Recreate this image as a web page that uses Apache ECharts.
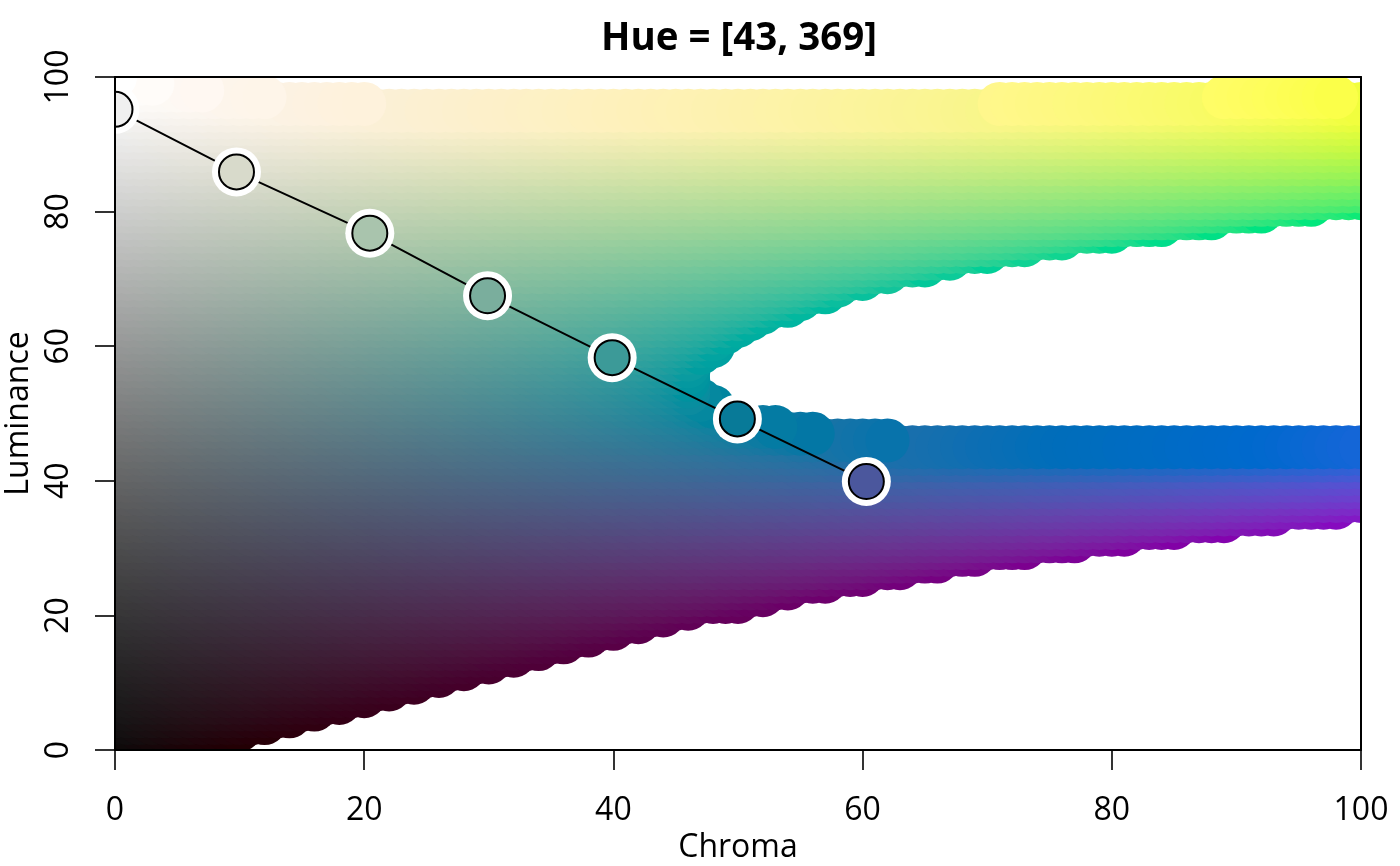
<!DOCTYPE html>
<html>
<head>
<meta charset="utf-8">
<title>Hue = [43, 369]</title>
<script src="https://cdn.jsdelivr.net/npm/echarts@6/dist/echarts.min.js"></script>
<style>
	html, body { margin: 0; padding: 0; background: #fff; }
	#chart { width: 1400px; height: 866px; }
</style>
</head>
<body>
<div id="chart"></div>
<script>
// tick labels
const tickValues = [0, 20, 40, 60, 80, 100];

// background field: one row of circles per luminance, index = luminance 0..100
// hue of each row at chroma 100
const rowHue = [
	403, 400, 397, 393, 390, 387, 384, 380, 377, 374,
	371, 367, 364, 361, 358, 354, 351, 348, 345, 341,
	338, 335, 332, 328, 325, 322, 319, 315, 312, 309,
	306, 302, 299, 296, 293, 289, 286, 283, 280, 276,
	273, 270, 267, 263, 260, 257, 254, 250, 247, 244,
	241, 237, 234, 231, 228, 224, 221, 218, 215, 211,
	208, 205, 202, 198, 195, 192, 189, 185, 182, 179,
	176, 172, 169, 166, 163, 159, 156, 153, 150, 146,
	143, 140, 137, 133, 130, 127, 124, 120, 117, 114,
	111, 107, 104, 101, 98, 94, 91, 88, 85, 81,
	78,
];
// largest chroma of each row
const rowMaxChroma = [
	4, 6, 8, 10, 12, 14, 16, 18, 20, 22,
	24, 26, 28, 30, 32, 34, 36, 38, 40, 42,
	44, 46, 50, 52, 54, 57, 60, 63, 66, 69,
	73, 77, 81, 85, 89, 93, 98, 100, 100, 100,
	100, 100, 100, 100, 100, 100, 62, 56, 53, 50,
	48, 48, 47, 46, 46, 46, 46, 46, 46, 47,
	48, 48, 49, 50, 51, 52, 54, 55, 57, 58,
	60, 62, 65, 67, 70, 73, 76, 80, 84, 88,
	92, 96, 100, 100, 100, 100, 100, 100, 100, 100,
	100, 100, 100, 100, 100, 100, 100, 98, 7, 3,
	0,
];
// the two top rows leave a hole in the middle
const gapRows = [96, 97];
const gapFrom = [21, 13];
const gapTo = [71, 89];

// palette points on top
const paletteChroma = [0, 9.75, 20.45, 29.9, 39.9, 49.95, 60.3];
const paletteLuminance = [95.2, 85.9, 76.8, 67.5, 58.3, 49.2, 39.9];
const paletteColors = ['#f0f0f0', '#d8dacb', '#a9c4ad', '#7aae9d', '#3c9a98', '#087a98', '#4b579d'];

const chromaStep = 1;
// hue drifts with chroma, degrees per chroma unit below 100
const hueChromaSlope = 0.32;

// polar LUV to sRGB hex, same colour model as the source plot
function hcl2hex(h, c, l) {
	const Xn = 95.047, Yn = 100, Zn = 108.883;
	const un = 4 * Xn / (Xn + 15 * Yn + 3 * Zn);
	const vn = 9 * Yn / (Xn + 15 * Yn + 3 * Zn);
	if (l <= 0) return '#000000';
	const u = c * Math.cos(h * Math.PI / 180);
	const v = c * Math.sin(h * Math.PI / 180);
	const Y = Yn * (l > 8 ? Math.pow((l + 16) / 116, 3) : l / 903.3);
	const up = u / (13 * l) + un;
	const vp = v / (13 * l) + vn;
	const X = 9 * Y * up / (4 * vp);
	const Z = -X / 3 - 5 * Y + 3 * Y / vp;
	const lin = [
		(3.240479 * X - 1.53715 * Y - 0.498535 * Z) / 100,
		(-0.969256 * X + 1.875992 * Y + 0.041556 * Z) / 100,
		(0.055648 * X - 0.204043 * Y + 1.057311 * Z) / 100,
	];
	return '#' + lin.map(function (t) {
		let s = t <= 0.0031308 ? 12.92 * t : 1.055 * Math.pow(t, 1 / 2.4) - 0.055;
		s = Math.round(Math.min(1, Math.max(0, s)) * 255);
		return (s < 16 ? '0' : '') + s.toString(16);
	}).join('');
}

// rows drawn from dark to light so the upper ones sit on top
const fieldPoints = [];
const fieldColors = [];
rowMaxChroma.forEach(function (maxC, l) {
	const g = gapRows.indexOf(l);
	for (let c = 0; c <= maxC; c += chromaStep) {
		if (g >= 0 && c >= gapFrom[g] && c < gapTo[g]) continue;
		fieldPoints.push([c, l]);
		fieldColors.push(hcl2hex(rowHue[l] + hueChromaSlope * (c - 100), c, l));
	}
});

const palettePoints = paletteChroma.map(function (c, i) {
	return [c, paletteLuminance[i]];
});

const fontFamily = '"Open Sans", "Noto Sans", sans-serif';
const axisFontSize = 32;

function boxAxis(extra) {
	return Object.assign({
		type: 'value',
		min: 0,
		max: 100,
		interval: 20,
		z: 20,
		splitLine: { show: false },
		axisLine: { show: true, onZero: false, lineStyle: { color: '#000', width: 2 } },
		axisTick: { show: false },
		axisLabel: { show: false },
	}, extra);
}

// custom series because scatter does not really clip its symbols at the box
function circleSeries(points, radius, fill, border, z) {
	return {
		type: 'custom',
		coordinateSystem: 'cartesian2d',
		data: points,
		clip: true,
		silent: true,
		progressive: 0,
		encode: { x: 0, y: 1 },
		z: z,
		renderItem: function (params, api) {
			const p = api.coord([api.value(0), api.value(1)]);
			return {
				type: 'circle',
				shape: { cx: p[0], cy: p[1], r: radius },
				style: {
					fill: typeof fill === 'string' ? fill : fill[params.dataIndex],
					stroke: border ? '#000' : null,
					lineWidth: border ? 2 : 0,
				},
			};
		},
	};
}

const chart = echarts.init(document.getElementById('chart'), null, { renderer: 'canvas' });
chart.setOption({
	animation: false,
	backgroundColor: '#fff',
	title: {
		text: 'Hue = [43, 369]',
		left: 734,
		top: 15,
		textAlign: 'center',
		textStyle: { color: '#000', fontFamily: fontFamily, fontWeight: 'bold', fontSize: 38.5 },
	},
	grid: { left: 115, right: 39, top: 77, bottom: 116, containLabel: false, outerBoundsMode: 'none' },
	xAxis: [
		boxAxis({
			position: 'bottom',
			name: 'Chroma',
			nameLocation: 'middle',
			nameGap: 82,
			nameTextStyle: { color: '#000', fontFamily: fontFamily, fontSize: axisFontSize },
			axisTick: { show: true, length: 20, lineStyle: { color: '#000', width: 1.6 } },
			axisLabel: {
				show: true,
				margin: 45,
				color: '#000',
				fontFamily: fontFamily,
				fontSize: axisFontSize,
				showMinLabel: true,
				showMaxLabel: true,
				formatter: function (v) { return tickValues.indexOf(v) >= 0 ? String(v) : ''; },
			},
		}),
		boxAxis({ position: 'top' }),
	],
	yAxis: [
		boxAxis({
			position: 'left',
			name: 'Luminance',
			nameLocation: 'middle',
			nameGap: 77,
			nameTextStyle: { color: '#000', fontFamily: fontFamily, fontSize: axisFontSize },
			axisTick: { show: true, length: 20, lineStyle: { color: '#000', width: 1.6 } },
			axisLabel: {
				show: true,
				rotate: 90,
				margin: 40,
				color: '#000',
				fontFamily: fontFamily,
				fontSize: axisFontSize,
				showMinLabel: true,
				showMaxLabel: true,
				formatter: function (v) { return tickValues.indexOf(v) >= 0 ? String(v) : ''; },
			},
		}),
		boxAxis({ position: 'right' }),
	],
	series: [
		circleSeries(fieldPoints, 22, fieldColors, false, 2),
		{
			type: 'line',
			data: palettePoints,
			showSymbol: false,
			clip: true,
			lineStyle: { color: '#000', width: 2 },
			silent: true,
			z: 3,
		},
		circleSeries(palettePoints, 24.5, '#fff', false, 4),
		circleSeries(palettePoints, 17.5, paletteColors, true, 5),
	],
});
</script>
</body>
</html>
